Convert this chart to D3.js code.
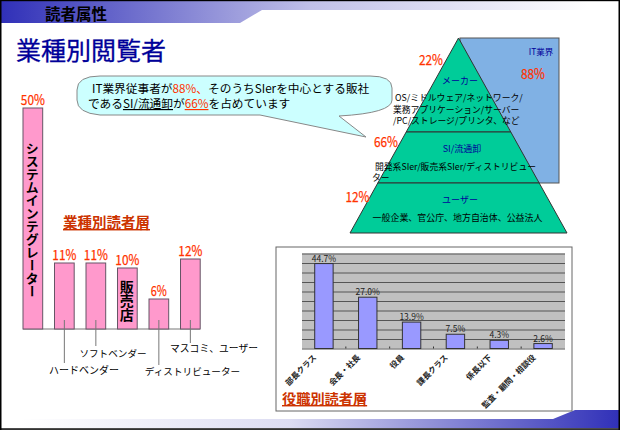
<!DOCTYPE html>
<html>
<head>
<meta charset="utf-8">
<script src="https://cdnjs.cloudflare.com/ajax/libs/d3/7.8.5/d3.min.js"></script>
<style>
  html, body { margin: 0; padding: 0; background: #fff; }
  svg { display: block; }
  text { font-family: "Noto Sans CJK JP", sans-serif; }
</style>
</head>
<body>
<svg id="chart" width="620" height="432"></svg>
<script>
var industryCategories = ["システムインテグレーター", "ハードベンダー", "ソフトベンダー", "販売店", "ディストリビューター", "マスコミ、ユーザー"];
var industryValues = [50, 11, 11, 10, 6, 12];
var roleCategories = ["部長クラス", "会長・社長", "役員", "課長クラス", "係長以下", "監査・顧問・相談役"];
var roleValues = [44.7, 27.0, 13.9, 7.5, 4.3, 2.6];
var pyramidTiers = ["メーカー", "SI/流通卸", "ユーザー"];
var pyramidShares = [22, 66, 12];
var itShare = 88;

var svg = d3.select("#chart");
var defs = svg.append("defs");
var RED = "#ff3300";

function gradient(id, stops) {
  var g = defs.append("linearGradient").attr("id", id);
  stops.forEach(function(s) {
    g.append("stop").attr("offset", s[0]).attr("stop-color", s[1]);
  });
}
gradient("headGrad", [[0, "#3030b8"], [0.5, "#c0c0e8"], [0.95, "#ffffff"]]);
gradient("footGrad", [[0, "#ffffff"], [0.45, "#dcdcf2"], [0.65, "#9c9cdc"], [1, "#3030b8"]]);

function label(x, y, str, size, fill, anchor, weight) {
  return svg.append("text").attr("x", x).attr("y", y).text(str)
    .attr("font-size", size).attr("fill", fill || "#000")
    .attr("text-anchor", anchor || "start")
    .attr("font-weight", weight || "normal");
}

// red percent labels are narrower than the font, so squeeze them to the drawn width
function percent(sel) {
  return sel.attr("text-anchor", "middle").attr("font-size", 14).attr("fill", RED)
    .attr("stroke", RED).attr("stroke-width", 0.25)
    .attr("textLength", function() { return this.textContent.length === 2 ? 16 : 24; })
    .attr("lengthAdjust", "spacingAndGlyphs");
}

// header and footer bands
svg.append("path").attr("d", "M1 1H620V10H262L240 23H1Z").attr("fill", "url(#headGrad)");
svg.append("path").attr("d", "M20 419H553L575 410H620V428H20Z").attr("fill", "url(#footGrad)");
svg.append("rect").attr("width", 620).attr("height", 1.2).attr("fill", "#000");
svg.append("rect").attr("width", 1.5).attr("height", 430).attr("fill", "#000");
svg.append("rect").attr("x", 618.5).attr("width", 1.5).attr("height", 430).attr("fill", "#000");
svg.append("rect").attr("y", 428.3).attr("width", 620).attr("height", 1.5).attr("fill", "#000");
label(45, 19.5, "読者属性", 15.5, "#000", "start", "bold");
label(16, 59.5, "業種別閲覧者", 25, "#000099").attr("stroke", "#000099").attr("stroke-width", 0.3);

// industry bars: the picture is not to scale, so the scale follows the drawn heights
var indX = d3.scaleBand().domain(industryCategories).range([23, 200.2]).paddingInner(0.375).paddingOuter(0);
var indY = d3.scaleLinear().domain([0, 6, 10, 11, 12, 50]).range([329, 299, 268, 263, 259, 108]);

svg.append("line").attr("x1", 23).attr("x2", 200).attr("y1", 329).attr("y2", 329).attr("stroke", "#777");
svg.append("g").selectAll("rect").data(industryValues).enter().append("rect")
  .attr("x", function(d, i) { return indX(industryCategories[i]); })
  .attr("y", function(d) { return indY(d); })
  .attr("width", indX.bandwidth())
  .attr("height", function(d) { return 329 - indY(d); })
  .attr("fill", "#ff99cc").attr("stroke", "#665566").attr("stroke-width", 1);
svg.append("g").selectAll("text").data(industryValues).enter().append("text")
  .attr("x", function(d, i) { return indX(industryCategories[i]) + indX.bandwidth() / 2; })
  .attr("y", function(d) { return indY(d) - 3; })
  .text(function(d) { return d + "%"; })
  .call(percent);

// names written inside the bars
function verticalName(name, startY, size) {
  svg.append("text").attr("x", indX(name) + indX.bandwidth() / 2 - 0.7).attr("y", startY)
    .attr("font-size", size).attr("font-weight", "bold")
    .attr("writing-mode", "vertical-rl").text(name);
}
verticalName(industryCategories[0], 142, 13);
verticalName(industryCategories[3], 280, 14);

// leader lines for the names under the bars
var leaderEnds = [{ c: 1, y: 363, tx: 84, ty: 374, size: 10 }, { c: 2, y: 346, tx: 113, ty: 357, size: 9.6 },
                  { c: 4, y: 365, tx: 192.5, ty: 375, size: 9.6 }, { c: 5, y: 343, tx: 214, ty: 352, size: 9.8 }];
leaderEnds.forEach(function(l) {
  var name = industryCategories[l.c];
  var cx = indX(name) + indX.bandwidth() / 2;
  svg.append("line").attr("x1", cx).attr("x2", cx).attr("y1", 320).attr("y2", l.y).attr("stroke", "#777");
  label(l.tx, l.ty, name, l.size, "#000", "middle");
});
label(106.5, 228, "業種別読者層", 14.5, "#cc3300", "middle", "bold").attr("text-decoration", "underline");

// pyramid
svg.append("rect").attr("x", 460).attr("y", 38).attr("width", 99).attr("height", 145)
  .attr("fill", "#80b1e4").attr("stroke", "#555");
var pyrW = d3.scaleLinear().domain([38, 233]).range([0, 108.5]);
var tierEdges = [38, 132, 183, 233];
svg.append("g").selectAll("path").data(pyramidTiers).enter().append("path")
  .attr("d", function(d, i) {
    var a = tierEdges[i], b = tierEdges[i + 1];
    return d3.line()([[458.5 - pyrW(a), a], [458.5 + pyrW(a), a], [458.5 + pyrW(b), b], [458.5 - pyrW(b), b]]) + "Z";
  })
  .attr("fill", "#00cc99").attr("stroke", "#333").attr("stroke-width", 1);

var tierTitleX = [460, 462, 460], tierTitleY = [83.5, 152, 202.5];
svg.append("g").selectAll("text").data(pyramidTiers).enter().append("text")
  .attr("x", function(d, i) { return tierTitleX[i]; })
  .attr("y", function(d, i) { return tierTitleY[i]; })
  .attr("text-anchor", "middle").attr("font-size", 9).attr("fill", "#000099")
  .text(function(d) { return d; });

var shareX = [431, 386, 357.5], shareY = [65, 147, 202];
svg.append("g").selectAll("text").data(pyramidShares).enter().append("text")
  .attr("x", function(d, i) { return shareX[i]; })
  .attr("y", function(d, i) { return shareY[i]; })
  .text(function(d) { return d + "%"; })
  .call(percent);
label(533, 79, itShare + "%", 14).call(percent);
label(541, 55, "IT業界", 8.5, "#000099", "middle");

label(395, 100.5, "OS/ミドルウェア/ネットワーク/", 8.8);
label(393, 112.5, "業務アプリケーション/サーバー", 8.8);
label(393, 123.5, "/PC/ストレージ/プリンタ、など", 8.8);
label(375, 169.5, "開発系SIer/販売系SIer/ディストリビュー", 8.8);
label(372, 180.5, "ター", 8.8);
label(457.5, 220.5, "一般企業、官公庁、地方自治体、公益法人", 8.95, "#000", "middle");

// callout
svg.append("path")
  .attr("d", "M100 76H370Q392 76 392 88V100Q392 113 339 116L366 137L260 115H100Q77 113 77 100V90Q77 76 100 76Z")
  .attr("fill", "#ccffff").attr("stroke", "#888").attr("stroke-width", 1);
var line1 = label(92, 93, "", 11.7);
[["IT業界従事者が", "#000"], ["88%、", RED], ["そのうちSIerを中心とする販社", "#000"]].forEach(function(p) {
  line1.append("tspan").attr("fill", p[1]).text(p[0]);
});
var line2 = label(88, 108, "", 11.7);
[["である", "#000", 0], ["SI/流通卸", "#000", 1], ["が", "#000", 0], ["66%", RED, 1], ["を占めています", "#000", 0]].forEach(function(p) {
  line2.append("tspan").attr("fill", p[1]).attr("text-decoration", p[2] ? "underline" : null).text(p[0]);
});

// role chart
svg.append("rect").attr("x", 276).attr("y", 247).attr("width", 296).attr("height", 164)
  .attr("fill", "#fff").attr("stroke", "#666");
var roleX = d3.scaleBand().domain(roleCategories).range([302, 565]).paddingInner(0.58).paddingOuter(0.29);
var roleY = d3.scaleLinear().domain([0, 50]).range([348.5, 253.5]);
svg.append("rect").attr("x", 302).attr("y", 253.5).attr("width", 263).attr("height", 95).attr("fill", "#c0c0c0");
var grid = svg.append("g").attr("transform", "translate(302,0)")
  .call(d3.axisLeft(roleY).ticks(10).tickSize(-263).tickFormat(""));
grid.select(".domain").remove();
grid.selectAll("line").attr("stroke", "#555");

svg.append("g").selectAll("rect").data(roleValues).enter().append("rect")
  .attr("x", function(d, i) { return roleX(roleCategories[i]); })
  .attr("y", function(d) { return roleY(d); })
  .attr("width", roleX.bandwidth())
  .attr("height", function(d) { return 348.5 - roleY(d); })
  .attr("fill", "#9999ff").attr("stroke", "#333").attr("stroke-width", 1);
svg.append("g").selectAll("text").data(roleValues).enter().append("text")
  .attr("x", function(d, i) { return roleX(roleCategories[i]) + roleX.bandwidth() / 2; })
  .attr("y", function(d) { return roleY(d) - 2; })
  .attr("text-anchor", "middle").attr("font-size", 8.5).attr("fill", "#222")
  .text(function(d) { return d.toFixed(1) + "%"; });

// small ticks between the categories
svg.append("g").selectAll("line").data(roleCategories.slice(1)).enter().append("line")
  .attr("x1", function(d) { return roleX(d) - roleX.step() * 0.29; })
  .attr("x2", function(d) { return roleX(d) - roleX.step() * 0.29; })
  .attr("y1", 346.5).attr("y2", 348.5).attr("stroke", "#333");

svg.append("g").selectAll("text").data(roleCategories).enter().append("text")
  .attr("transform", function(d) {
    return "translate(" + (roleX(d) + roleX.bandwidth() / 2 - 7) + ",358) rotate(-45)";
  })
  .attr("text-anchor", "end").attr("font-size", 8).attr("fill", "#222").attr("font-weight", "bold")
  .text(function(d) { return d; });

label(282, 404, "役職別読者層", 14.2, "#cc3300", "start", "bold").attr("text-decoration", "underline");
</script>
</body>
</html>
